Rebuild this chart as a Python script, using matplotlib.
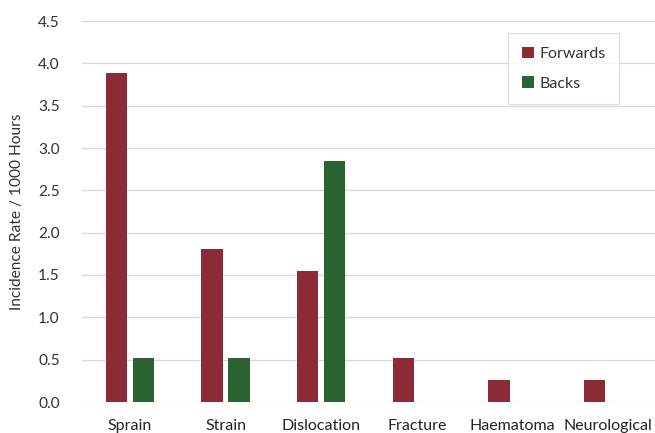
import matplotlib
matplotlib.use("Agg")
import matplotlib.pyplot as plt
import numpy as np

categories = ["Sprain", "Strain", "Dislocation", "Fracture", "Haematoma", "Neurological"]
forwards = [3.88, 1.81, 1.55, 0.52, 0.26, 0.26]
backs = [0.52, 0.52, 2.85, 0.0, 0.0, 0.0]
y_ticks = [0.0, 0.5, 1.0, 1.5, 2.0, 2.5, 3.0, 3.5, 4.0, 4.5]

plt.rcParams["font.family"] = ["Lato", "DejaVu Sans"]

fig = plt.figure(figsize=(6.55, 4.33), dpi=100)
ax = fig.add_axes([82 / 655, 1 - 402 / 433, (656 - 82) / 655, (402 - 21) / 433])

x = np.arange(len(categories))
w = 0.223
off = 0.142
ax.bar(x - off, forwards, width=w, color="#8C2A36", label="Forwards", zorder=3)
ax.bar(x + off, backs, width=w, color="#2A6331", label="Backs", zorder=3)

ax.set_xlim(-0.5, len(categories) - 0.5)
ax.set_ylim(0, 4.5)
ax.set_yticks(y_ticks)
ax.set_yticklabels([f"{v:.1f}" for v in y_ticks], fontsize=11.2, color="#333333")
ax.set_xticks(x)
ax.set_xticklabels(categories, fontsize=11.5, color="#222222")
ax.tick_params(axis="both", length=0)
ax.tick_params(axis="y", pad=16)
ax.tick_params(axis="x", pad=12)
ax.grid(axis="y", color="#D9D9D9", linewidth=1, zorder=0)
for s in ax.spines.values():
    s.set_visible(False)

ax.set_ylabel("Incidence Rate / 1000 Hours", fontsize=11.2, color="#333333", labelpad=10)

leg = ax.legend(loc="upper right", bbox_to_anchor=((619 - 82) / 574, (402 - 33) / 381),
                frameon=True, fancybox=False, fontsize=11.5, handlelength=0.75, handleheight=0.75,
                labelspacing=0.95, borderpad=0.85, handletextpad=0.35, borderaxespad=0)
leg.get_frame().set_edgecolor("#D9D9D9")
leg.get_frame().set_linewidth(1)
for t in leg.get_texts():
    t.set_color("#333333")

fig.savefig("out.png", dpi=100)
